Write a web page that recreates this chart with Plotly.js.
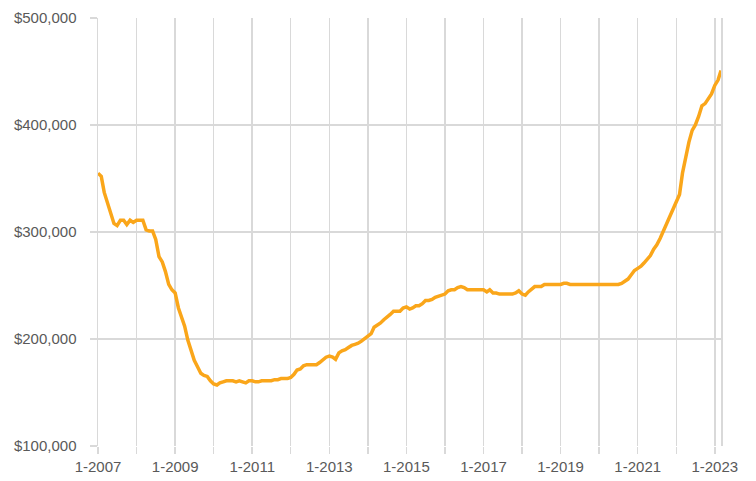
<!DOCTYPE html>
<html>
<head>
<meta charset="utf-8">
<script src="https://cdn.plot.ly/plotly-3.0.1.min.js"></script>
<style>
  html, body { margin: 0; padding: 0; background: #ffffff; }
  #chart { width: 756px; height: 481px; }
</style>
</head>
<body>
<div id="chart"></div>
<script>
// Monthly values (thousands of dollars), Jan 2007 .. Mar 2023
const startYear = 2007;
const values2007 = [355, 352, 337, 327, 318, 308, 306, 311, 311, 307, 311, 309];
const values2008 = [311, 311, 311, 302, 301, 301, 293, 277, 272, 263, 251, 246];
const values2009 = [243, 229, 220, 212, 199, 190, 180, 174, 168, 166, 165, 161];
const values2010 = [158, 157, 159, 160, 161, 161, 161, 160, 161, 160, 159, 161];
const values2011 = [161, 160, 160, 161, 161, 161, 161, 162, 162, 163, 163, 163];
const values2012 = [164, 167, 171, 172, 175, 176, 176, 176, 176, 178, 181, 183];
const values2013 = [184, 183, 181, 187, 189, 190, 192, 194, 195, 196, 198, 200];
const values2014 = [202, 205, 211, 213, 215, 218, 220, 223, 226, 226, 226, 229];
const values2015 = [230, 228, 229, 231, 231, 233, 236, 236, 237, 239, 240, 241];
const values2016 = [242, 245, 246, 246, 248, 249, 248, 246, 246, 246, 246, 246];
const values2017 = [246, 244, 246, 243, 243, 242, 242, 242, 242, 242, 243, 245];
const values2018 = [242, 241, 244, 247, 249, 249, 249, 251, 251, 251, 251, 251];
const values2019 = [251, 252, 252, 251, 251, 251, 251, 251, 251, 251, 251, 251];
const values2020 = [251, 251, 251, 251, 251, 251, 251, 252, 254, 256, 260, 264];
const values2021 = [266, 268, 271, 275, 278, 284, 288, 294, 301, 308, 315, 322];
const values2022 = [329, 335, 355, 370, 384, 395, 400, 408, 418, 420, 425, 429];
const values2023 = [437, 442, 451];

const tickYears = [2007, 2008, 2009, 2010, 2011, 2012, 2013, 2014, 2015, 2016, 2017, 2018, 2019, 2020, 2021, 2022, 2023];
const tickLabels = ["1-2007", "", "1-2009", "", "1-2011", "", "1-2013", "", "1-2015", "", "1-2017", "", "1-2019", "", "1-2021", "", "1-2023"];
const yTicks = [100000, 200000, 300000, 400000, 500000];

const allYears = [values2007, values2008, values2009, values2010, values2011, values2012, values2013,
  values2014, values2015, values2016, values2017, values2018, values2019, values2020, values2021,
  values2022, values2023];

const xs = [], ys = [];
allYears.forEach((arr, yi) => {
  arr.forEach((v, mi) => {
    const mm = String(mi + 1).padStart(2, '0');
    xs.push((startYear + yi) + '-' + mm + '-01');
    ys.push(v * 1000);
  });
});

const tickVals = tickYears.map(y => y + '-01-01');

const gridColor = '#d9d9d9';
const font = { family: 'Arial, "Liberation Sans", sans-serif', size: 15, color: '#595959' };

Plotly.newPlot('chart', [{
  x: xs, y: ys, type: 'scatter', mode: 'lines',
  line: { color: '#FAA61A', width: 3.5 },
  hoverinfo: 'skip'
}], {
  width: 756, height: 481,
  margin: { l: 98, r: 35, t: 18, b: 35 },
  paper_bgcolor: '#ffffff', plot_bgcolor: '#ffffff',
  showlegend: false,
  font: font,
  xaxis: {
    type: 'date',
    range: [xs[0], xs[xs.length - 1]],
    tickmode: 'array', tickvals: tickVals, ticktext: tickLabels,
    showgrid: true, gridcolor: gridColor, gridwidth: 1.5,
    ticks: 'outside', ticklen: 7, tickcolor: gridColor, tickwidth: 1.5,
    zeroline: false, showline: false,
    tickfont: font
  },
  yaxis: {
    range: [100000, 500000],
    tickmode: 'array', tickvals: yTicks,
    tickformat: '$,.0f',
    showgrid: true, gridcolor: gridColor, gridwidth: 1.5,
    ticks: 'outside', ticklen: 7, tickcolor: gridColor, tickwidth: 1.5,
    ticklabelstandoff: 10,
    zeroline: false,
    showline: true, mirror: true, linecolor: gridColor, linewidth: 1.5,
    tickfont: font
  }
}, { staticPlot: true, displayModeBar: false });
</script>
</body>
</html>
